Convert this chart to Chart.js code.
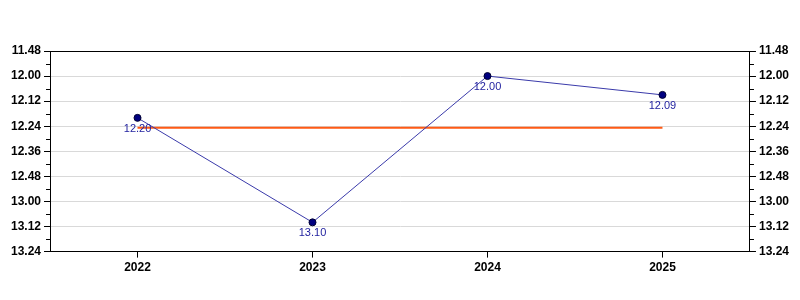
<!DOCTYPE html>
<html>
<head>
<meta charset="utf-8">
<script src="https://cdn.jsdelivr.net/npm/chart.js@4"></script>
<style>
  html, body { margin: 0; padding: 0; background: #fff; }
  #wrap { width: 800px; height: 300px; }
</style>
</head>
<body>
<div id="wrap"><canvas id="grafico"></canvas></div>
<script>
// años y tiempos en segundos (12.20 = 12 min 20 s)
const anios = ["2022", "2023", "2024", "2025"];
const tiempos = [740, 790, 720, 729];
const promedio = [744.75, 744.75, 744.75, 744.75];
const ejeMin = 708;
const ejeMax = 804;
const paso = 12;

function formatoTiempo(seg) {
    const m = Math.floor(seg / 60);
    const s = Math.round(seg - m * 60);
    return m + "." + String(s).padStart(2, "0");
}

// marco, ticks menores y etiquetas de los puntos
const extras = {
    id: "extras",
    afterDraw(chart) {
        const ctx = chart.ctx;
        const area = chart.chartArea;
        const y = chart.scales.y;
        ctx.save();
        ctx.strokeStyle = "#000";
        ctx.lineWidth = 1;
        ctx.beginPath();
        ctx.moveTo(area.left, Math.round(area.top) + 0.5);
        ctx.lineTo(area.right, Math.round(area.top) + 0.5);
        ctx.stroke();
        for (let v = ejeMin + paso / 2; v < ejeMax; v += paso) {
            const py = Math.round(y.getPixelForValue(v)) + 0.5;
            ctx.beginPath();
            ctx.moveTo(area.left - 4, py);
            ctx.lineTo(area.left, py);
            ctx.moveTo(area.right, py);
            ctx.lineTo(area.right + 4, py);
            ctx.stroke();
        }
        const meta = chart.getDatasetMeta(0);
        ctx.fillStyle = "#2323a0";
        ctx.font = "11px 'Liberation Sans', Arial, sans-serif";
        ctx.textAlign = "center";
        ctx.textBaseline = "middle";
        meta.data.forEach((p, i) => {
            ctx.fillText(formatoTiempo(tiempos[i]), p.x, p.y + 11);
        });
        ctx.restore();
    }
};

const ejeY = (pos) => ({
    type: "linear",
    position: pos,
    reverse: true,
    min: ejeMin,
    max: ejeMax,
    afterBuildTicks(scale) {
        const t = [];
        for (let v = ejeMin; v <= ejeMax; v += paso) t.push({ value: v });
        scale.ticks = t;
    },
    ticks: {
        color: "#000",
        padding: 3,
        font: { size: 12, weight: "bold", family: "'Liberation Sans', Arial, sans-serif" },
        callback: (v) => formatoTiempo(v)
    },
    grid: {
        drawOnChartArea: pos === "left",
        color: (c) => (c.tick && (c.tick.value === ejeMin || c.tick.value === ejeMax)) ? "rgba(0,0,0,0)" : "#d9d9d9",
        tickColor: "#000",
        tickLength: 6
    },
    border: { display: true, color: "#000" }
});

new Chart(document.getElementById("grafico"), {
    type: "line",
    data: {
        labels: anios,
        datasets: [
            {
                label: "Tiempo",
                data: tiempos,
                borderColor: "#3a3aaa",
                borderWidth: 1,
                backgroundColor: "#000080",
                pointBackgroundColor: "#000080",
                pointBorderColor: "#000033",
                pointBorderWidth: 1,
                pointRadius: 3.5,
                tension: 0,
                fill: false,
                yAxisID: "y"
            },
            {
                label: "Promedio",
                data: promedio,
                borderColor: "#ff5a14",
                borderWidth: 2,
                pointRadius: 0,
                fill: false,
                yAxisID: "y",
                order: 1
            }
        ]
    },
    options: {
        responsive: true,
        maintainAspectRatio: false,
        animation: false,
        layout: { padding: { top: 51, left: 8, right: 8, bottom: 22 } },
        plugins: {
            legend: { display: false },
            tooltip: { enabled: false }
        },
        scales: {
            x: {
                offset: true,
                ticks: {
                    color: "#000",
                    padding: 3,
                    font: { size: 12, weight: "bold", family: "'Liberation Sans', Arial, sans-serif" }
                },
                grid: { offset: false, drawOnChartArea: false, tickColor: "#000", tickLength: 6 },
                border: { display: true, color: "#000" }
            },
            y: ejeY("left"),
            y2: ejeY("right")
        }
    },
    plugins: [extras]
});
</script>
</body>
</html>
